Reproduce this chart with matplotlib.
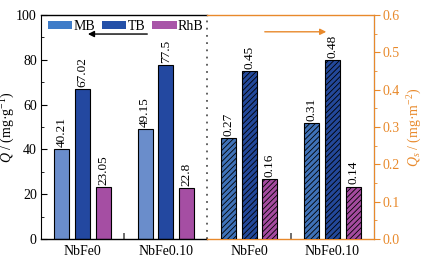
import matplotlib
matplotlib.use("Agg")
import matplotlib.pyplot as plt
from matplotlib.patches import Patch
import numpy as np

plt.rcParams['font.family'] = ['Liberation Serif', 'DejaVu Serif']
plt.rcParams['mathtext.fontset'] = 'custom'
plt.rcParams['mathtext.rm'] = 'Liberation Serif'
plt.rcParams['mathtext.it'] = 'Liberation Serif:italic'
plt.rcParams['hatch.linewidth'] = 0.6

groups = ['NbFe0', 'NbFe0.10', 'NbFe0', 'NbFe0.10']
dyes = ['MB', 'TB', 'RhB']
q_values = {'MB': [40.21, 49.15], 'TB': [67.02, 77.5], 'RhB': [23.05, 22.8]}
qs_values = {'MB': [0.27, 0.31], 'TB': [0.45, 0.48], 'RhB': [0.16, 0.14]}
q_labels = {'MB': ['40.21', '49.15'], 'TB': ['67.02', '77.5'], 'RhB': ['23.05', '22.8']}
qs_labels = {'MB': ['0.27', '0.31'], 'TB': ['0.45', '0.48'], 'RhB': ['0.16', '0.14']}

bar_colors = {'MB': '#6a8dcb', 'TB': '#2348a0', 'RhB': '#a54ea3'}
hatch_colors = {'MB': '#3f72b8', 'TB': '#23489a', 'RhB': '#a44b9f'}
legend_colors = {'MB': '#3f7cc8', 'TB': '#2450a8', 'RhB': '#a855a8'}
orange = '#e8892b'

fig = plt.figure(figsize=(4.24, 2.64), dpi=100)
ax = fig.add_axes([0.0967, 0.0947, 0.7853, 0.8485])
ax2 = ax.twinx()

w = 0.18
offs = {'MB': -0.25, 'TB': 0.0, 'RhB': 0.25}
left_x = np.array([0, 1])
right_x = np.array([2, 3])
for d in dyes:
    bars = ax.bar(left_x + offs[d], q_values[d], width=w, color=bar_colors[d],
                  edgecolor='black', linewidth=0.8, zorder=3)
    for b, lab in zip(bars, q_labels[d]):
        ax.text(b.get_x() + b.get_width() / 2, b.get_height() + 1, lab,
                rotation=90, ha='center', va='bottom', fontsize=9.5)
    bars2 = ax2.bar(right_x + offs[d], qs_values[d], width=w, color=hatch_colors[d],
                    edgecolor='black', linewidth=0.8, hatch='//////', zorder=3)
    for b, lab in zip(bars2, qs_labels[d]):
        ax2.text(b.get_x() + b.get_width() / 2, b.get_height() + 0.006, lab,
                 rotation=90, ha='center', va='bottom', fontsize=9.5)

ax.set_xlim(-0.5, 3.5)
ax.set_ylim(0, 100)
ax2.set_ylim(0, 0.6)

ax.set_xticks([0, 1, 2, 3])
ax.set_xticklabels(groups, fontsize=10)
ax.set_xticks([0.5, 2.5], minor=True)
ax.tick_params(axis='x', which='major', length=0, pad=4)
ax.tick_params(axis='x', which='minor', direction='in', length=4, width=1.2, color='#555555')

ax.set_yticks(np.arange(0, 101, 20))
ax.set_yticks(np.arange(0, 101, 10), minor=True)
ax.tick_params(axis='y', which='major', direction='in', length=4, labelsize=10, pad=3)
ax.tick_params(axis='y', which='minor', direction='in', length=2)

ax2.set_yticks(np.arange(0, 0.61, 0.1))
ax2.set_yticklabels([f'{v:.1f}' for v in np.arange(0, 0.61, 0.1)])
ax2.set_yticks(np.arange(0, 0.61, 0.05), minor=True)
ax2.tick_params(axis='y', which='major', direction='out', length=4, colors=orange, labelsize=10, pad=2)
ax2.tick_params(axis='y', which='minor', direction='out', length=2, colors=orange)
ax2.spines['right'].set_color(orange)

for a in (ax, ax2):
    a.spines['top'].set_visible(False)
    a.spines['bottom'].set_visible(False)
ax2.spines['left'].set_visible(False)

tr = ax.get_xaxis_transform()
for yy in (0, 1):
    ax.plot([-0.5, 1.5], [yy, yy], color='black', lw=1.0, transform=tr, clip_on=False, zorder=5)
    ax.plot([1.5, 3.5], [yy, yy], color=orange, lw=1.0, transform=tr, clip_on=False, zorder=5)
ax.plot([1.5, 1.5], [0, 1], color='#555555', lw=1.3, ls=(0, (1, 3)), transform=tr, zorder=4)

ax.set_ylabel('$Q$ / (mg·g$^{-1}$)', fontsize=10)
ax.yaxis.set_label_coords(-0.072, 0.5)
ax2.set_ylabel('$Q_s$ / (mg·m$^{-2}$)', fontsize=10, color=orange, rotation=90)
ax2.yaxis.set_label_coords(1.094, 0.5)

handles = [Patch(facecolor=legend_colors[d], edgecolor='none', label=d) for d in dyes]
ax.legend(handles=handles, loc='upper left', ncol=3, frameon=False, fontsize=10,
          handlelength=1.75, handleheight=0.45, handletextpad=0.1, columnspacing=0.5,
          borderaxespad=0.0, borderpad=0.2, bbox_to_anchor=(0.012, 0.99))

ax.annotate('', xy=(0.03, 91.5), xytext=(0.81, 91.5),
            arrowprops=dict(arrowstyle='-|>', color='black', lw=1.0, mutation_scale=9))
ax2.annotate('', xy=(2.96, 0.555), xytext=(2.155, 0.555),
             arrowprops=dict(arrowstyle='-|>', color=orange, lw=1.0, mutation_scale=9))

fig.savefig('out.png', dpi=100)
